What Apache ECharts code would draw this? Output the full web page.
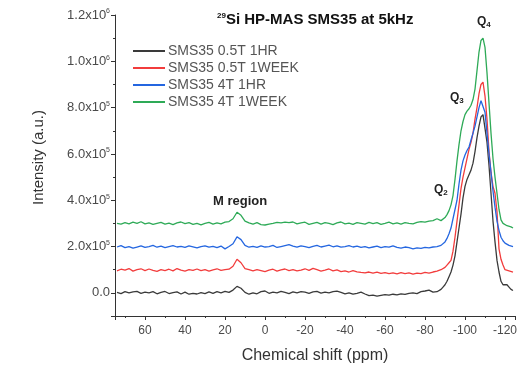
<!DOCTYPE html>
<html>
<head>
<meta charset="utf-8">
<script src="https://cdn.jsdelivr.net/npm/echarts@6/dist/echarts.min.js"></script>
<style>
  html, body { margin: 0; padding: 0; background: #fff; }
  #chart { width: 527px; height: 365px; }
</style>
</head>
<body>
<div id="chart"></div>
<script>
// chemical shift (ppm), coarse on the baseline, finer across the Q peaks
const ppm = [
  74, 72, 70, 68, 66, 64, 62, 60, 58, 56,
  54, 52, 50, 48, 46, 44, 42, 40, 38, 36,
  34, 32, 30, 28, 26, 24, 22, 20, 18, 16,
  14, 12, 10, 8, 6, 4, 2, 0, -2, -4,
  -6, -8, -10, -12, -14, -16, -18, -20, -22, -24,
  -26, -28, -30, -32, -34, -36, -38, -40, -42, -44,
  -46, -48, -50, -52, -54, -56, -58, -60, -62, -64,
  -66, -68, -70, -72, -74, -76, -78, -80, -82, -84,
  -86, -88,
  -89, -90, -91, -92, -93, -94, -95, -96, -97, -98,
  -99, -100, -101, -102, -103, -104, -105, -106, -107, -108,
  -109, -110, -111, -112, -113, -114, -115, -116, -117, -118,
  -119, -120, -121, -122, -123, -124
]

// intensities in units of 1e5 (stacked offsets as plotted)
const sms05_1hr = [
  0.02, -0.03, 0.05, 0.00, 0.04, 0.06, -0.02, 0.03, 0.00, 0.05,
  -0.04, 0.02, 0.06, -0.03, 0.01, 0.04, -0.05, 0.03, -0.06, -0.02,
  -0.05, 0.01, -0.03, 0.04, -0.02, 0.05, 0.00, 0.06, 0.02, 0.12,
  0.28, 0.20, 0.02, -0.06, 0.00, -0.04, 0.05, 0.08, -0.02, 0.03,
  0.00, 0.06, 0.02, -0.03, 0.04, 0.00, 0.05, 0.03, -0.02, 0.04,
  0.06, -0.01, 0.03, 0.00, 0.05, 0.07, 0.02, -0.04, 0.00, -0.06,
  -0.02, 0.03, -0.05, -0.12, -0.10, -0.14, -0.11, -0.08, -0.10, -0.06,
  -0.09, -0.04, -0.07, -0.02, 0.00, -0.03, 0.05, 0.08, 0.12, 0.03,
  0.05, 0.15,
  0.25, 0.35, 0.50, 0.70, 0.90, 1.20, 1.60, 2.20, 2.80, 3.40,
  4.10, 4.60, 4.90, 5.10, 5.30, 5.60, 6.10, 6.70, 7.20, 7.60,
  7.70, 7.10, 6.50, 5.50, 4.30, 3.10, 2.20, 1.40, 0.90, 0.50,
  0.35, 0.30, 0.35, 0.25, 0.15, 0.10
]
const sms05_1week = [
  0.95, 1.02, 0.98, 1.05, 0.94, 1.00, 1.04, 0.96, 1.03, 0.97,
  0.93, 1.00, 0.96, 1.02, 0.95, 1.05, 0.98, 0.94, 1.00, 0.97,
  1.03, 0.96, 1.00, 0.94, 0.99, 1.04, 0.97, 1.00, 1.02, 1.15,
  1.45, 1.30, 1.05, 1.00, 0.95, 1.00, 0.96, 0.92, 0.98, 1.02,
  0.94, 0.99, 1.03, 0.96, 1.00, 0.95, 0.98, 1.04, 0.97, 1.06,
  1.00, 0.94, 0.98, 1.03, 0.95, 0.99, 0.92, 0.95, 0.90, 0.96,
  0.91, 0.88, 0.86, 0.90, 0.85, 0.89, 0.84, 0.87, 0.83, 0.86,
  0.82, 0.87, 0.83, 0.86, 0.81, 0.85, 0.83, 0.88, 0.85, 0.90,
  0.94, 1.00,
  1.05, 1.10, 1.20, 1.30, 1.40, 1.80, 2.40, 3.10, 3.80, 4.50,
  5.00, 5.40, 5.80, 6.20, 6.50, 6.90, 7.50, 8.00, 8.60, 9.00,
  9.10, 8.50, 7.50, 6.10, 5.20, 4.60, 4.30, 3.50, 1.90, 1.45,
  1.20, 1.00, 0.95, 0.95, 0.90, 0.90
]
const sms4_1hr = [
  1.98, 2.04, 1.95, 2.00, 1.93, 1.98, 2.03, 1.96, 2.00, 2.05,
  1.97, 2.02, 1.95, 2.00, 2.04, 1.98, 2.01, 1.96, 2.03, 1.99,
  1.94, 2.00, 2.03, 1.97, 2.01, 1.95, 2.02, 1.90, 2.00, 2.12,
  2.42, 2.30, 2.05, 1.97, 2.01, 1.96, 2.03, 1.98, 2.00, 2.05,
  1.96, 2.00, 2.04, 2.08, 2.02, 1.97, 2.03, 2.00, 1.95, 2.01,
  2.05, 1.98, 2.02, 2.06, 1.99, 2.03, 1.97, 2.00, 2.04, 1.98,
  2.02, 1.96, 2.00, 1.94, 1.98, 2.02, 1.95, 2.00, 1.97, 2.03,
  1.96, 1.93, 1.98, 1.95, 1.90, 1.94, 1.92, 1.96, 1.94, 1.98,
  2.00, 2.05,
  2.10, 2.20, 2.35, 2.55, 2.80, 3.20, 3.60, 4.00, 4.70, 5.30,
  5.70, 5.95, 6.15, 6.30, 6.60, 6.90, 7.20, 7.60, 8.00, 8.30,
  8.35, 7.80, 6.90, 6.00, 5.20, 4.40, 3.70, 3.10, 2.70, 2.40,
  2.25, 2.15, 2.10, 2.05, 2.00, 2.00
]
const sms4_1week = [
  3.00, 2.97, 3.03, 2.98, 3.05, 3.00, 3.07, 2.98, 3.02, 2.96,
  3.00, 3.04, 2.97, 3.01, 2.95, 3.02, 3.06, 2.99, 3.03, 2.96,
  3.00, 2.94, 3.00, 3.04, 2.97, 3.02, 2.98, 3.05, 3.08, 3.20,
  3.48, 3.35, 3.10, 3.02, 2.97, 3.03, 2.95, 2.93, 2.97, 3.00,
  3.04, 3.02, 3.05, 3.03, 3.06, 2.98, 3.02, 3.05, 2.96, 3.00,
  3.04, 2.97, 3.03, 3.00, 2.95, 3.02, 3.06, 2.98, 3.01, 2.96,
  3.03, 3.00, 2.97, 3.04, 2.99, 3.03, 2.96, 3.00, 3.05, 2.98,
  3.02, 2.97, 3.03, 3.00, 2.98, 3.04, 3.08, 3.05, 3.10, 3.12,
  3.20, 3.12,
  3.15, 3.25, 3.38, 3.55, 3.80, 4.20, 4.90, 5.70, 6.40, 7.00,
  7.40, 7.70, 7.85, 7.95, 8.10, 8.35, 8.80, 9.60, 10.40, 10.90,
  11.00, 10.60, 9.50, 8.20, 6.90, 5.80, 5.00, 4.30, 3.60, 3.15,
  3.00, 2.95, 2.90, 2.90, 2.85, 2.80
]

const seriesNames = ['SMS35 0.5T 1HR', 'SMS35 0.5T 1WEEK', 'SMS35 4T 1HR', 'SMS35 4T 1WEEK']
const seriesColors = ['#3a3a3a', '#f23c3c', '#2466e0', '#2eaa57']
const seriesData = [sms05_1hr, sms05_1week, sms4_1hr, sms4_1week]

const chart = echarts.init(document.getElementById('chart'))

// y tick labels in Origin style: 1.2x10^6 ... 2.0x10^5, 0.0
function yLabel(v) {
  if (v < 0) return ''
  if (v === 0) return '0.0'
  if (v >= 10) return (v / 10).toFixed(1) + 'x10{s|6}'
  return v.toFixed(1) + 'x10{s|5}'
}

const axisColor = '#333'
const labelColor = '#4a4a4a'
const font = 'Liberation Sans'

// Q labels with subscript index
function qText(n, left, top) {
  return {
    type: 'text', left: left, top: top,
    style: {
      text: '{q|Q}{d|' + n + '}',
      rich: {
        q: { fontSize: 12, fontWeight: 'bold', fill: '#222', fontFamily: font },
        d: { fontSize: 8, fontWeight: 'bold', fill: '#222', fontFamily: font, padding: [6, 0, 0, 0] }
      }
    }
  }
}

chart.setOption({
  animation: false,
  title: {
    text: '{s|29}{b|Si HP-MAS SMS35 at 5kHz}',
    left: 212,
    top: 7,
    textStyle: {
      rich: {
        s: { fontSize: 8, fontWeight: 'bold', color: '#111', fontFamily: font, padding: [0, 0, 8, 0] },
        b: { fontSize: 15, fontWeight: 'bold', color: '#111', fontFamily: font }
      }
    }
  },
  legend: {
    orient: 'vertical',
    left: 133,
    top: 44,
    padding: 0,
    icon: 'rect',
    itemWidth: 32,
    itemHeight: 2,
    itemGap: 3,
    textStyle: { fontSize: 14, color: '#555', fontFamily: font, lineHeight: 13, padding: [0, 0, 0, -2] },
    data: seriesNames
  },
  grid: { left: 115, right: 12, top: 15, bottom: 49, outerBoundsMode: 'none' },
  xAxis: {
    type: 'value',
    inverse: true,
    min: -125,
    max: 75,
    splitNumber: 10,
    name: 'Chemical shift (ppm)',
    nameLocation: 'middle',
    nameGap: 32,
    nameTextStyle: { fontSize: 16, color: '#333', fontFamily: font },
    axisLine: { onZero: false, lineStyle: { color: axisColor, width: 1 } },
    axisTick: { length: 4, lineStyle: { color: axisColor } },
    minorTick: { show: true, splitNumber: 2, length: 2, lineStyle: { color: axisColor } },
    axisLabel: {
      fontSize: 12,
      color: labelColor,
      margin: 9,
      fontFamily: font,
      formatter: v => (v % 20 === 0 ? String(v) : '')
    },
    splitLine: { show: false }
  },
  yAxis: {
    type: 'value',
    min: -1,
    max: 12,
    splitNumber: 6,
    name: 'Intensity (a.u.)',
    nameLocation: 'middle',
    nameGap: 69,
    nameTextStyle: { fontSize: 15, color: '#333', fontFamily: font, padding: [0, 0, 0, 16] },
    axisLine: { show: true, onZero: false, lineStyle: { color: axisColor, width: 1 } },
    axisTick: { show: true, length: 4, lineStyle: { color: axisColor } },
    minorTick: { show: true, splitNumber: 2, length: 2, lineStyle: { color: axisColor } },
    axisLabel: {
      fontSize: 13,
      color: labelColor,
      margin: 5,
      fontFamily: font,
      formatter: yLabel,
      rich: { s: { fontSize: 7, color: labelColor, fontFamily: font, padding: [0, 0, 7, 0] } }
    },
    splitLine: { show: false }
  },
  graphic: [
    { type: 'text', left: 213, top: 195, style: { text: 'M region', font: 'bold 13px Liberation Sans', fill: '#222' } },
    qText(4, 477, 16),
    qText(3, 450, 92),
    qText(2, 434, 184)
  ],
  series: seriesNames.map((name, k) => ({
    name: name,
    type: 'line',
    symbol: 'none',
    lineStyle: { width: 1.3, color: seriesColors[k] },
    itemStyle: { color: seriesColors[k] },
    data: ppm.map((x, i) => [x, seriesData[k][i]])
  }))
})
</script>
</body>
</html>
